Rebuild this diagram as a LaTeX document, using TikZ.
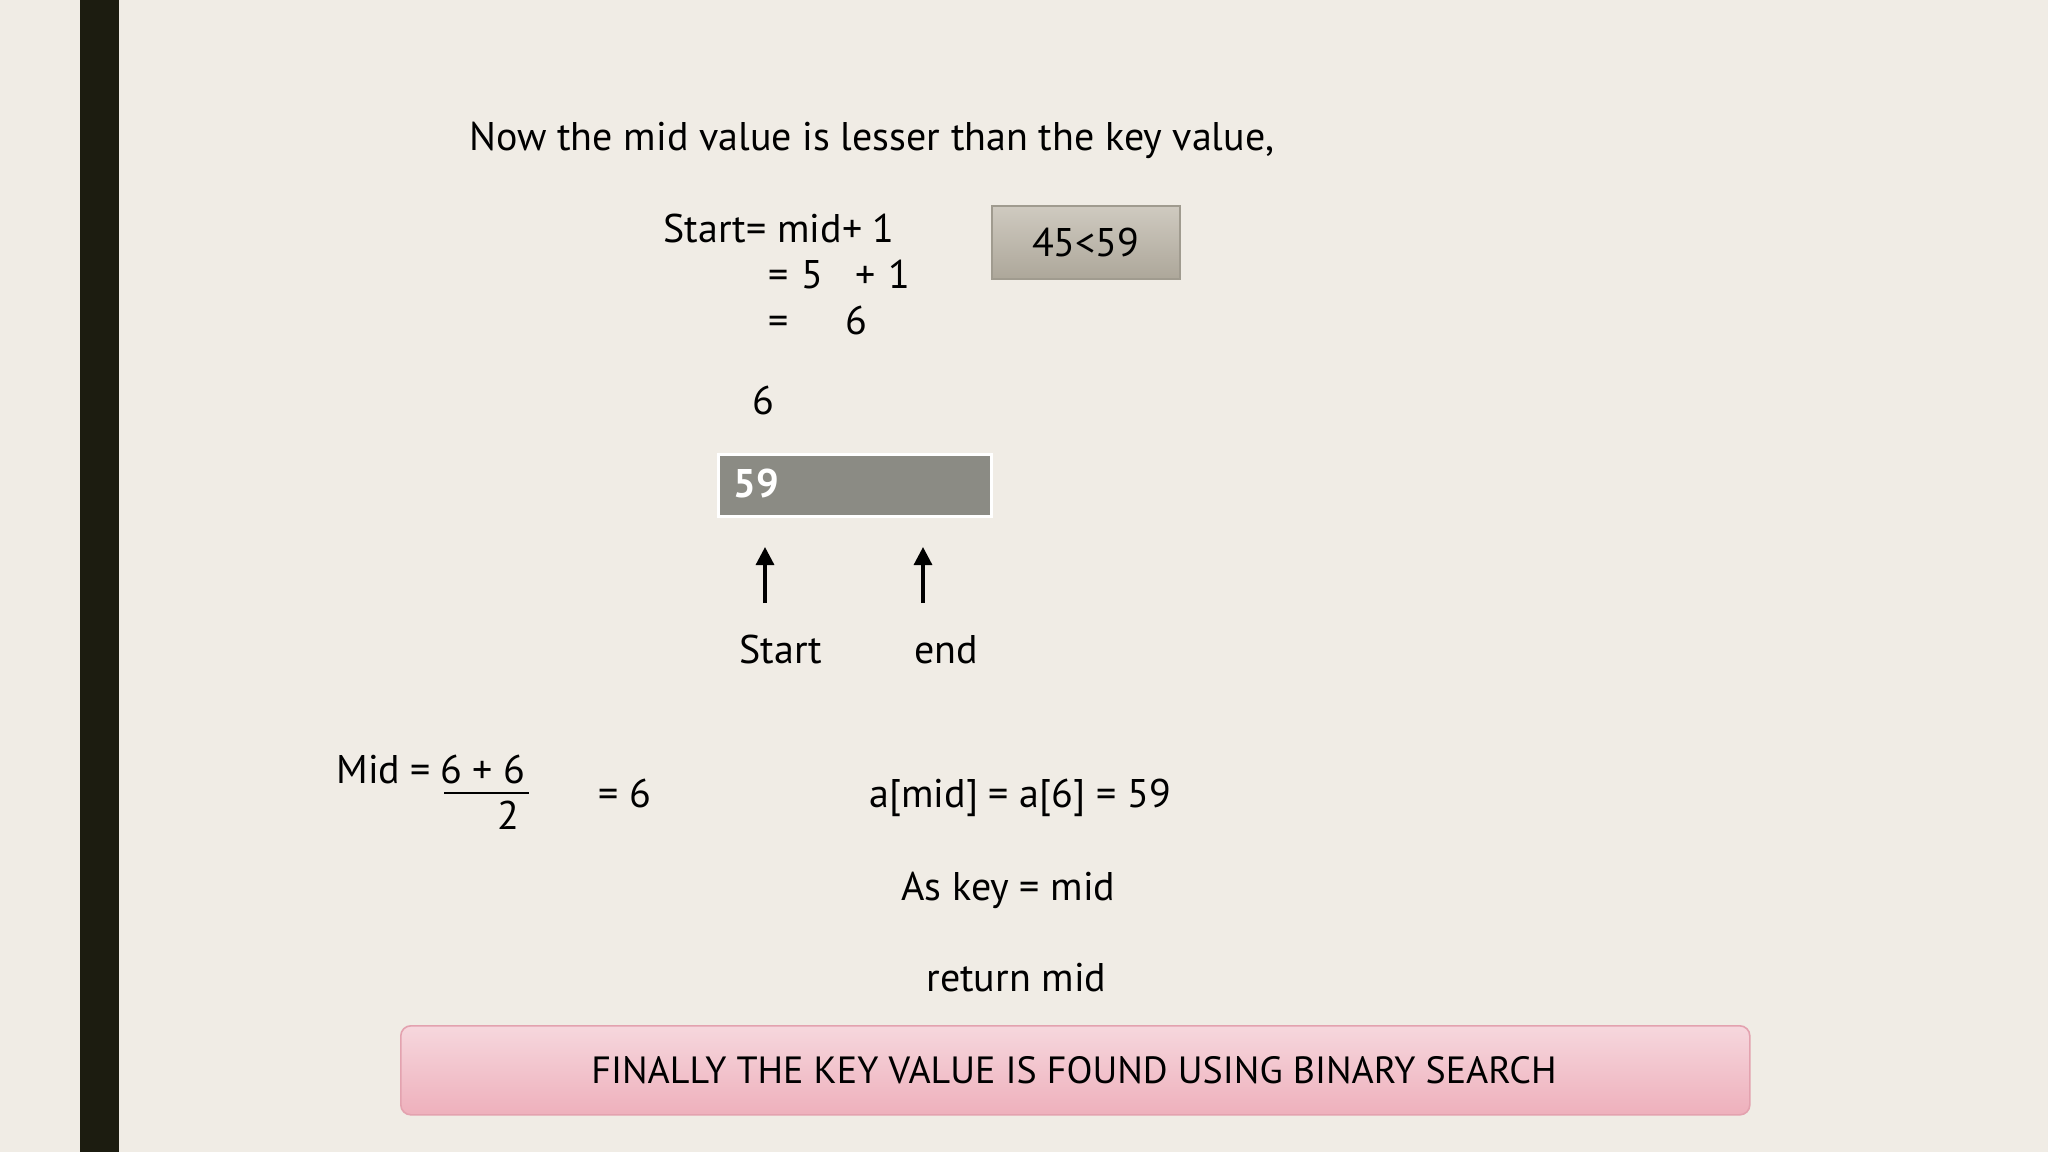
\documentclass[tikz,border=0pt]{standalone}
\usepackage{fontspec}
\setmainfont{PT Sans}
\usetikzlibrary{arrows.meta}
\definecolor{bgc}{HTML}{F0ECE5}
\definecolor{barc}{HTML}{1C1C10}
\definecolor{cmpTop}{HTML}{CFCAC0}
\definecolor{cmpBot}{HTML}{ADA79A}
\definecolor{cmpLine}{HTML}{A09B8F}
\definecolor{cellc}{HTML}{8B8B84}
\definecolor{pinkTop}{HTML}{F6D7DD}
\definecolor{pinkBot}{HTML}{EEB0BC}
\definecolor{pinkLine}{HTML}{E3A2AF}
\newcommand{\mainfs}{\fontsize{20}{24}\selectfont}
\tikzset{
  txt/.style={inner sep=0pt, font=\mainfs, anchor=base west, text=black},
  uparrow/.style={-{Triangle[length=9pt,width=9pt]}, line width=1.6pt, black},
}
\begin{document}
\begin{tikzpicture}[x=0.5pt,y=-0.5pt]
\useasboundingbox (0,0) rectangle (2048,1152);
\fill[bgc] (0,0) rectangle (2048,1152);
\fill[barc] (80,0) rectangle (119,1152);

\node[txt] (title) at (469,150) {Now the mid value is lesser than the key value,};

\node[txt] (s1) at (663,242) {Start= mid+ 1};
\node[txt] (s2eq) at (768,288) {=};
\node[txt] (s2a) at (801,288) {5};
\node[txt] (s2p) at (855,288) {+};
\node[txt] (s2b) at (888,288) {1};
\node[txt] (s3eq) at (768,334) {=};
\node[txt] (s3a) at (845,334) {6};

\node[draw=cmpLine, line width=0.8pt, top color=cmpTop, bottom color=cmpBot,
      minimum width=94pt, minimum height=36.5pt, inner sep=0pt, anchor=north west,
      font=\mainfs] (cmp) at (991,205) {45<59};

\node[txt] (idx) at (752,414) {6};

\node[draw=white, line width=1.6pt, fill=cellc, minimum width=136.5pt, minimum height=31pt,
      inner sep=0pt, anchor=north west] (cell) at (717,453) {};
\node[txt, text=white, font=\mainfs\bfseries] (val) at (733,497) {59};

\coordinate (stTail) at (765,603);
\coordinate (stTip) at (765,547);
\coordinate (enTail) at (923,603);
\coordinate (enTip) at (923,547);
\draw[uparrow] (stTail) -- (stTip);
\draw[uparrow] (enTail) -- (enTip);

\node[txt] (lstart) at (739,663) {Start};
\node[txt] (lend) at (914,663) {end};

\node[txt] (mid) at (336,783) {Mid =};
\node[txt] (num) at (440,783) {6 + 6};
\coordinate (fracL) at (444,793);
\coordinate (fracR) at (529,793);
\draw[line width=1.2pt] (fracL) -- (fracR);
\node[txt] (den) at (497,829) {2};
\node[txt] (res) at (598,807) {= 6};

\node[txt] (amid) at (869,807) {a[mid] = a[6] = 59};
\node[txt] (askey) at (901,900) {As key = mid};
\node[txt] (ret) at (926,991) {return mid};

\node[draw=pinkLine, line width=0.8pt, rounded corners=5pt, top color=pinkTop, bottom color=pinkBot,
      minimum width=674.5pt, minimum height=44.5pt, inner sep=0pt, anchor=north west] (banner) at (400,1025) {};
\node[inner sep=0pt] (bannertxt) at (1074,1070)
  {\resizebox{482.5pt}{13.5pt}{FINALLY THE KEY VALUE IS FOUND USING BINARY SEARCH}};
\end{tikzpicture}
\end{document}
